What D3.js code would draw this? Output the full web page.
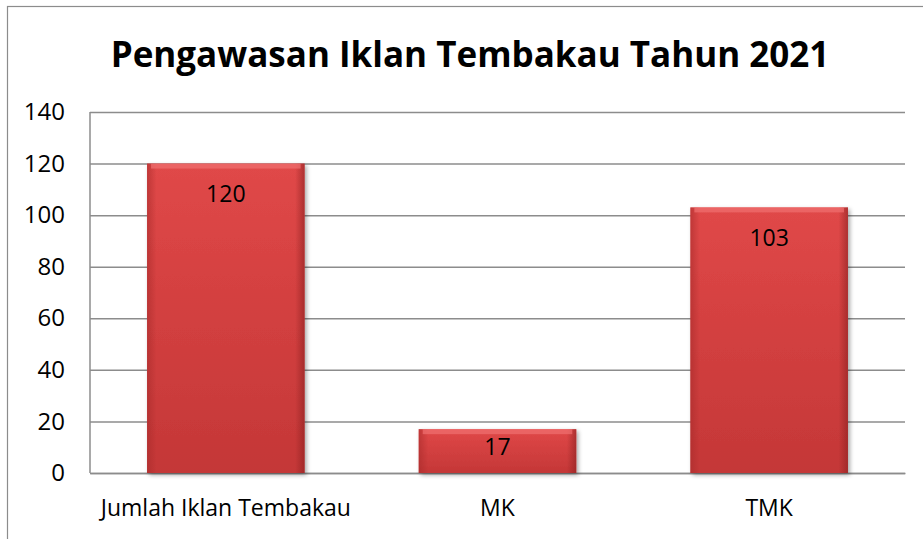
<!DOCTYPE html>
<html>
<head>
<meta charset="utf-8">
<script src="https://cdn.jsdelivr.net/npm/d3@7"></script>
<style>
  body { margin: 0; background: #fff; }
  svg { display: block; }
  svg text { font-family: "Open Sans", "Noto Sans", sans-serif; }
</style>
</head>
<body>
<svg id="mainsvg" width="923" height="539"></svg>
<script>
// data
const categories = ['Jumlah Iklan Tembakau', 'MK', 'TMK'];
const values = [120, 17, 103];
const yTicks = [0, 20, 40, 60, 80, 100, 120, 140];
const title = 'Pengawasan Iklan Tembakau Tahun 2021';

(function () {
  const svg = d3.select('#mainsvg'),
    width = Number(svg.attr('width')),
    height = Number(svg.attr('height')),
    margin = { top: 112, right: 18, bottom: 66, left: 90 },
    innerWidth = width - margin.left - margin.right,
    innerHeight = height - margin.top - margin.bottom;

  // outer chart frame
  svg.append('rect')
    .attr('x', 7.5).attr('y', 6.5)
    .attr('width', width).attr('height', height)
    .attr('fill', 'none').attr('stroke', '#8c8c8c').attr('stroke-width', 1.2);

  const defs = svg.append('defs');
  const grad = defs.append('linearGradient').attr('id', 'barGrad')
    .attr('x1', 0).attr('y1', 0).attr('x2', 0).attr('y2', 1);
  grad.append('stop').attr('offset', '0%').attr('stop-color', '#e04848');
  grad.append('stop').attr('offset', '100%').attr('stop-color', '#c43737');
  const side = defs.append('linearGradient').attr('id', 'sideGrad')
    .attr('x1', 0).attr('y1', 0).attr('x2', 1).attr('y2', 0);
  side.append('stop').attr('offset', '0%').attr('stop-color', '#a52a2a').attr('stop-opacity', 0.55);
  side.append('stop').attr('offset', '6%').attr('stop-color', '#a52a2a').attr('stop-opacity', 0);
  side.append('stop').attr('offset', '94%').attr('stop-color', '#8a2020').attr('stop-opacity', 0);
  side.append('stop').attr('offset', '100%').attr('stop-color', '#8a2020').attr('stop-opacity', 0.6);
  const shadow = defs.append('filter').attr('id', 'shadow')
    .attr('x', '-10%').attr('y', '-10%').attr('width', '125%').attr('height', '125%');
  shadow.append('feDropShadow').attr('dx', 2).attr('dy', 2).attr('stdDeviation', 2)
    .attr('flood-color', '#000').attr('flood-opacity', 0.35);

  const g = svg.append('g')
    .attr('transform', `translate(${margin.left}, ${margin.top})`);

  const xScale = d3.scaleBand()
    .domain(categories)
    .range([0, innerWidth])
    .paddingInner(0.42)
    .paddingOuter(0.21);

  const yScale = d3.scaleLinear()
    .domain([0, 140])
    .range([innerHeight, 0]);

  // gridlines
  const yAxis = d3.axisLeft(yScale).tickValues(yTicks).tickSize(-innerWidth).tickPadding(25);
  const yG = g.append('g').call(yAxis).attr('font-family', null);
  yG.select('.domain').remove();
  yG.selectAll('.tick line').attr('stroke', '#8c8c8c').attr('stroke-width', 1.5);
  yG.selectAll('.tick text').attr('font-size', '24px').attr('fill', '#000');

  // plot frame left edge
  g.append('line').attr('x1', 0).attr('x2', 0).attr('y1', 0).attr('y2', innerHeight)
    .attr('stroke', '#8c8c8c').attr('stroke-width', 1.5);

  const xAxis = d3.axisBottom(xScale).tickSize(0).tickPadding(27);
  const xG = g.append('g').attr('transform', `translate(0,${innerHeight})`).call(xAxis)
    .attr('font-family', null);
  xG.select('.domain').attr('stroke', '#8c8c8c').attr('stroke-width', 1.5);
  xG.selectAll('.tick text').attr('font-size', '23px').attr('fill', '#000');

  const data = categories.map((c, i) => ({ name: c, value: values[i] }));

  const bars = g.selectAll('.bar').data(data).join('g').attr('class', 'bar');
  bars.append('rect')
    .attr('x', d => xScale(d.name))
    .attr('y', d => yScale(d.value))
    .attr('width', xScale.bandwidth())
    .attr('height', d => innerHeight - yScale(d.value))
    .attr('fill', 'url(#barGrad)')
    .attr('filter', 'url(#shadow)');
  bars.append('rect')
    .attr('x', d => xScale(d.name))
    .attr('y', d => yScale(d.value))
    .attr('width', xScale.bandwidth())
    .attr('height', d => innerHeight - yScale(d.value))
    .attr('fill', 'url(#sideGrad)');
  // bevel highlight on top edge
  bars.append('rect')
    .attr('x', d => xScale(d.name) + 4)
    .attr('y', d => yScale(d.value))
    .attr('width', xScale.bandwidth() - 8)
    .attr('height', 5)
    .attr('fill', '#f07070').attr('opacity', 0.7);

  // label sits near the top, but is pulled toward the middle on short bars
  bars.append('text')
    .attr('x', d => xScale(d.name) + xScale.bandwidth() / 2)
    .attr('y', d => {
      const h = innerHeight - yScale(d.value);
      return yScale(d.value) + Math.min(30, h / 2 - 4);
    })
    .attr('dy', '0.36em')
    .attr('text-anchor', 'middle')
    .attr('font-size', '23px')
    .attr('fill', '#000')
    .text(d => d.value);

  svg.append('text')
    .attr('x', 470)
    .attr('y', 67)
    .attr('text-anchor', 'middle')
    .attr('font-size', '35px')
    .attr('font-weight', 'bold')
    .text(title);
})();
</script>
</body>
</html>
